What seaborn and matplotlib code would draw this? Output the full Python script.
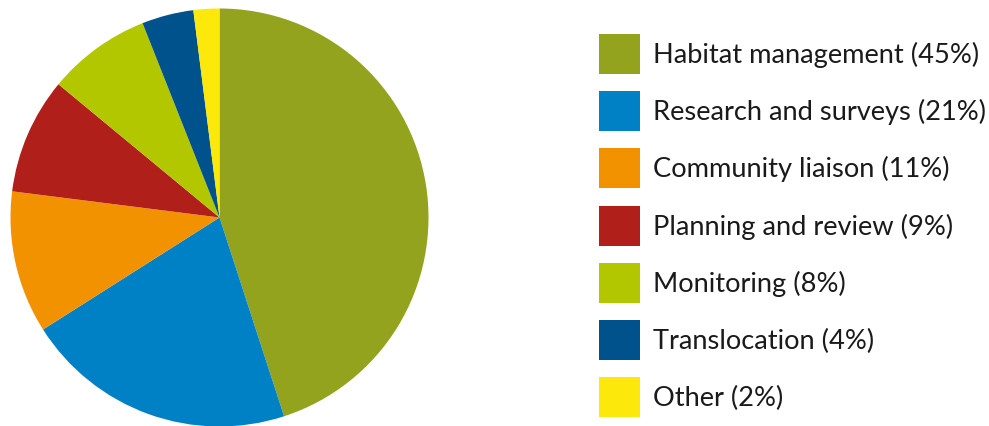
import matplotlib
matplotlib.use("Agg")
import matplotlib.pyplot as plt
from matplotlib.patches import Rectangle
import seaborn as sns

categories = ["Habitat management", "Research and surveys", "Community liaison",
              "Planning and review", "Monitoring", "Translocation", "Other"]
shares = [45, 21, 11, 9, 8, 4, 2]
colors = ["#93A31E", "#0081C6", "#F29200", "#B11F1A", "#B2C700", "#00528C", "#FCE80B"]

sns.set_theme(style="white")
plt.rcParams["font.family"] = ["Lato", "DejaVu Sans"]

W, H = 989, 427
fig = plt.figure(figsize=(W / 100, H / 100), dpi=100)

# pie axes placed in pixel terms (centre ~ (219.5, 218.5), radius ~209)
cx, cy, r = 219.5, 218.5, 209
ax = fig.add_axes([(cx - r) / W, (H - cy - r) / H, 2 * r / W, 2 * r / H])
ax.pie(shares, colors=colors, startangle=90, counterclock=False,
       wedgeprops=dict(linewidth=0))
ax.set_xlim(-1, 1)
ax.set_ylim(-1, 1)
ax.set_aspect("equal")
ax.axis("off")

# legend: swatches and labels
sw_x, sw_w, sw_h = 599, 41, 40
row0, step = 35, 57.2
for i, (cat, val, col) in enumerate(zip(categories, shares, colors)):
    top = row0 + i * step
    fig.patches.append(Rectangle((sw_x / W, (H - top - sw_h) / H), sw_w / W, sw_h / H,
                                 transform=fig.transFigure, facecolor=col,
                                 edgecolor="none"))
    fig.text(653 / W, (H - top - sw_h / 2) / H, f"{cat} ({val}%)",
             ha="left", va="center", fontsize=19.6, color="#1a1a1a")

fig.savefig("out.png", dpi=100, facecolor="white")
